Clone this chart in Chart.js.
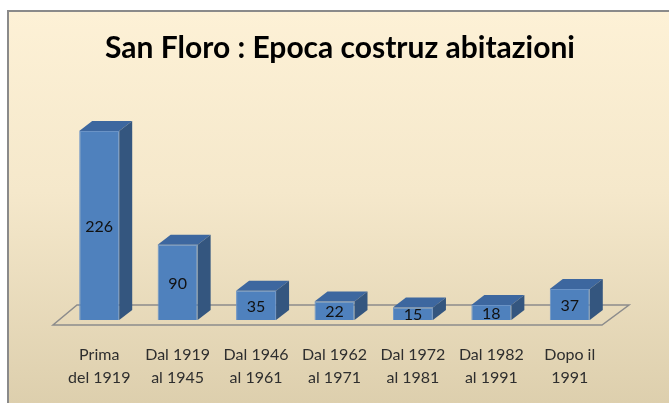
<!DOCTYPE html>
<html>
  <head>
    <script src="https://cdn.jsdelivr.net/npm/chart.js"></script>
    <style>
      body { margin: 0; background: #ffffff; }
      #frame {
        position: absolute;
        left: 7px;
        top: 10px;
        width: 670px;
        height: 400px;
        border-left: 2px solid #8a8a8a;
        border-top: 2px solid #8a8a8a;
        background: linear-gradient(to bottom, #fdf1d6 0%, #f5e8cb 45%, #dcceac 100%);
      }
      #chart { position: absolute; left: 0; top: 0; }
    </style>
  </head>

  <body>
    <div id="frame">
      <canvas id="chart" width="660" height="391"></canvas>
    </div>
  </body>

  <script>
    const title = "San Floro : Epoca costruz abitazioni";
    const categories = [
      ["Prima", "del 1919"],
      ["Dal 1919", "al 1945"],
      ["Dal 1946", "al 1961"],
      ["Dal 1962", "al 1971"],
      ["Dal 1972", "al 1981"],
      ["Dal 1982", "al 1991"],
      ["Dopo il", "1991"],
    ];
    const abitazioni = [226, 90, 35, 22, 15, 18, 37];

    // depth of the fake 3d bars
    const dx = 13;
    const dy = 10;

    const floorPlugin = {
      id: "floor",
      beforeDatasetsDraw(chart) {
        const ctx = chart.ctx;
        const a = chart.chartArea;
        ctx.save();
        ctx.strokeStyle = "#8c8c8c";
        ctx.lineWidth = 1.5;
        ctx.beginPath();
        ctx.moveTo(a.left - 7, a.bottom + 5);
        ctx.lineTo(a.right - 7, a.bottom + 5);
        ctx.lineTo(a.right + 20, a.bottom - 15);
        ctx.lineTo(a.left + 17, a.bottom - 15);
        ctx.closePath();
        ctx.stroke();
        ctx.restore();
      },
    };

    const box3d = {
      id: "box3d",
      afterDatasetsDraw(chart) {
        const ctx = chart.ctx;
        const meta = chart.getDatasetMeta(0);
        ctx.save();
        meta.data.forEach((bar, i) => {
          const x1 = bar.x - bar.width / 2;
          const x2 = bar.x + bar.width / 2;
          const top = bar.y;
          const base = bar.base;
          // top face
          ctx.fillStyle = "#3d679f";
          ctx.beginPath();
          ctx.moveTo(x1, top);
          ctx.lineTo(x1 + dx, top - dy);
          ctx.lineTo(x2 + dx, top - dy);
          ctx.lineTo(x2, top);
          ctx.closePath();
          ctx.fill();
          // side face
          ctx.fillStyle = "#34567f";
          ctx.beginPath();
          ctx.moveTo(x2, top);
          ctx.lineTo(x2 + dx, top - dy);
          ctx.lineTo(x2 + dx, base - dy);
          ctx.lineTo(x2, base);
          ctx.closePath();
          ctx.fill();

          // value in the middle of the front face
          ctx.fillStyle = "#111111";
          ctx.font = "16px Lato";
          ctx.textAlign = "center";
          ctx.textBaseline = "middle";
          ctx.fillText(abitazioni[i], bar.x, (top + base) / 2 + 1);
        });
        ctx.restore();
      },
    };

    const ctx = document.getElementById("chart").getContext("2d");
    const chart = new Chart(ctx, {
      type: "bar",
      data: {
        labels: categories,
        datasets: [
          {
            data: abitazioni,
            backgroundColor: "#4f81bd",
            borderColor: "#6a93c6",
            borderWidth: 1,
            categoryPercentage: 1,
            barPercentage: 0.51,
          },
        ],
      },
      options: {
        responsive: false,
        animation: false,
        layout: {
          padding: { left: 51, right: 49, top: 0, bottom: 0 },
        },
        scales: {
          x: {
            grid: { display: false },
            border: { display: false },
            ticks: {
              color: "#2e2e2e",
              padding: 16,
              maxRotation: 0,
              font: { family: "Lato", size: 16, lineHeight: 1.4 },
            },
            afterFit(scale) {
              scale.height = 83;
            },
          },
          y: {
            position: "right",
            min: 0,
            max: 250,
            grid: { display: false },
            border: { display: false },
            ticks: { display: false },
            afterFit(scale) {
              scale.width = 11;
            },
          },
        },
        plugins: {
          legend: { display: false },
          tooltip: { enabled: false },
          title: {
            display: true,
            text: title,
            color: "#000000",
            padding: { top: 18, bottom: 45 },
            font: { family: "Lato", size: 30, weight: "bold" },
          },
        },
      },
      plugins: [floorPlugin, box3d],
    });
  </script>
</html>
